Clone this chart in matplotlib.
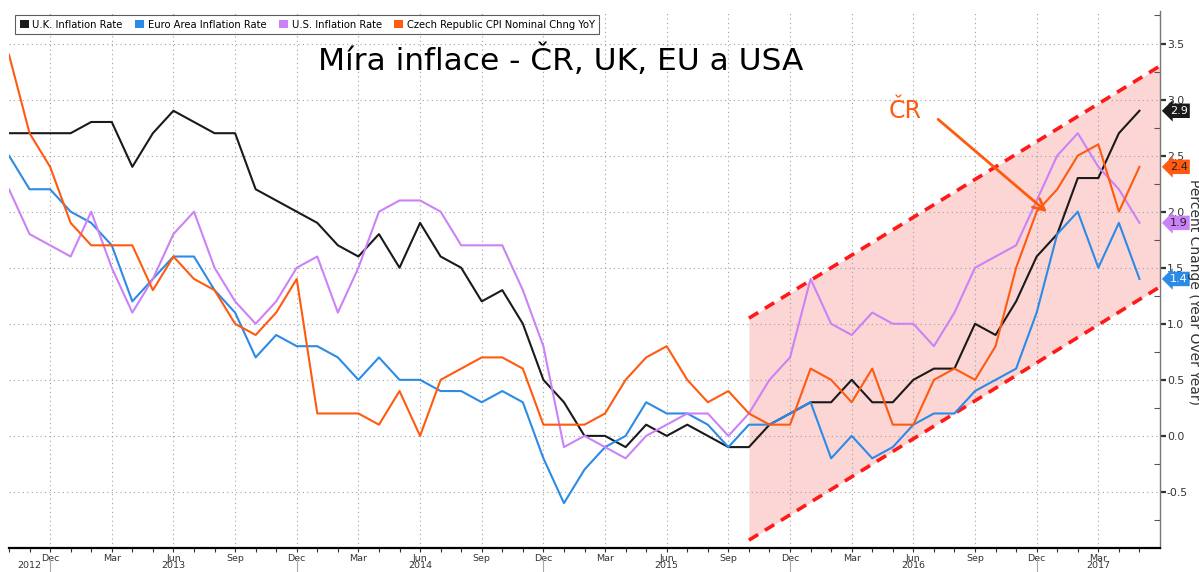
import numpy as np
import matplotlib.pyplot as plt
from matplotlib.patches import Patch
from matplotlib.transforms import blended_transform_factory

# mesicni data: rijen 2012 .. kveten 2017 (index 0 = Oct 2012)
uk = [2.7, 2.7, 2.7,
      2.7, 2.8, 2.8, 2.4, 2.7, 2.9, 2.8, 2.7, 2.7, 2.2, 2.1, 2.0,
      1.9, 1.7, 1.6, 1.8, 1.5, 1.9, 1.6, 1.5, 1.2, 1.3, 1.0, 0.5,
      0.3, 0.0, 0.0, -0.1, 0.1, 0.0, 0.1, 0.0, -0.1, -0.1, 0.1, 0.2,
      0.3, 0.3, 0.5, 0.3, 0.3, 0.5, 0.6, 0.6, 1.0, 0.9, 1.2, 1.6,
      1.8, 2.3, 2.3, 2.7, 2.9]
euro = [2.5, 2.2, 2.2,
        2.0, 1.9, 1.7, 1.2, 1.4, 1.6, 1.6, 1.3, 1.1, 0.7, 0.9, 0.8,
        0.8, 0.7, 0.5, 0.7, 0.5, 0.5, 0.4, 0.4, 0.3, 0.4, 0.3, -0.2,
        -0.6, -0.3, -0.1, 0.0, 0.3, 0.2, 0.2, 0.1, -0.1, 0.1, 0.1, 0.2,
        0.3, -0.2, 0.0, -0.2, -0.1, 0.1, 0.2, 0.2, 0.4, 0.5, 0.6, 1.1,
        1.8, 2.0, 1.5, 1.9, 1.4]
usa = [2.2, 1.8, 1.7,
       1.6, 2.0, 1.5, 1.1, 1.4, 1.8, 2.0, 1.5, 1.2, 1.0, 1.2, 1.5,
       1.6, 1.1, 1.5, 2.0, 2.1, 2.1, 2.0, 1.7, 1.7, 1.7, 1.3, 0.8,
       -0.1, 0.0, -0.1, -0.2, 0.0, 0.1, 0.2, 0.2, 0.0, 0.2, 0.5, 0.7,
       1.4, 1.0, 0.9, 1.1, 1.0, 1.0, 0.8, 1.1, 1.5, 1.6, 1.7, 2.1,
       2.5, 2.7, 2.4, 2.2, 1.9]
cz = [3.4, 2.7, 2.4,
      1.9, 1.7, 1.7, 1.7, 1.3, 1.6, 1.4, 1.3, 1.0, 0.9, 1.1, 1.4,
      0.2, 0.2, 0.2, 0.1, 0.4, 0.0, 0.5, 0.6, 0.7, 0.7, 0.6, 0.1,
      0.1, 0.1, 0.2, 0.5, 0.7, 0.8, 0.5, 0.3, 0.4, 0.2, 0.1, 0.1,
      0.6, 0.5, 0.3, 0.6, 0.1, 0.1, 0.5, 0.6, 0.5, 0.8, 1.5, 2.0,
      2.2, 2.5, 2.6, 2.0, 2.4]

nazvy = ['U.K. Inflation Rate', 'Euro Area Inflation Rate',
         'U.S. Inflation Rate', 'Czech Republic CPI Nominal Chng YoY']
barvy = ['#1a1a1a', '#2b8be6', '#cc82f7', '#ff5a0f']
barvy_textu = ['white', 'white', '#222222', '#222222']

mesice = np.arange(len(uk))
zkratky = ['Jan', 'Feb', 'Mar', 'Apr', 'May', 'Jun',
           'Jul', 'Aug', 'Sep', 'Oct', 'Nov', 'Dec']
roky = ['2012', '2013', '2014', '2015', '2016', '2017']
roky_pozice = [1, 8, 20, 32, 44, 53]

# rucne nakresleny kanal (Oct 2015 .. konec osy)
kanal_x = [36, 56]
kanal_horni = [1.05, 3.3]
kanal_dolni = [-0.93, 1.33]

fig = plt.figure(figsize=(11.99, 5.72), dpi=100)
ax = fig.add_axes([9/1199, 24/572, 1151/1199, 537/572])

ax.fill_between(kanal_x, kanal_dolni, kanal_horni, color='#fcd5d5', lw=0, zorder=1)
ax.plot(kanal_x, kanal_horni, color='#ff1a1a', lw=2.6, dashes=(3, 2.2), zorder=2)
ax.plot(kanal_x, kanal_dolni, color='#ff1a1a', lw=2.6, dashes=(3, 2.2), zorder=2)

serie = [uk, euro, usa, cz]
for s, c in zip(serie, barvy):
    ax.plot(mesice, s, color=c, lw=1.5, zorder=3)

ax.set_xlim(0, 56)
ax.set_ylim(-1.0, 3.79)

# osa x: mesice
vse = np.arange(0, 56)
kvartaly = [m for m in vse if (9 + m) % 12 in (11, 2, 5, 8)]
ax.set_xticks(kvartaly)
ax.set_xticklabels([zkratky[(9 + m) % 12] for m in kvartaly])
ax.set_xticks(vse, minor=True)
ax.tick_params(axis='x', which='both', direction='out', length=3, width=0.8,
               labelsize=6.8, pad=1, color='#333333', labelcolor='#333333')

# osa y vpravo
ax.yaxis.tick_right()
ax.set_yticks(np.arange(-0.5, 3.51, 0.5))
ax.set_yticklabels(['%.1f' % v for v in np.arange(-0.5, 3.51, 0.5)])
ax.set_yticks(np.arange(-0.75, 3.8, 0.5), minor=True)
ax.tick_params(axis='y', which='major', direction='out', length=4, width=1.6,
               labelsize=7.8, pad=1, color='#333333', labelcolor='#333333')
ax.tick_params(axis='y', which='minor', direction='in', length=4, width=0.8,
               color='#555555')

ax.grid(True, which='major', color='#a0a0a0', lw=0.8, linestyle=(0, (1, 3)))
for sp in ['top', 'left']:
    ax.spines[sp].set_visible(False)
ax.spines['bottom'].set_color('black')
ax.spines['bottom'].set_linewidth(1.6)
ax.spines['right'].set_color('#777777')
ax.spines['right'].set_linewidth(1.0)

# roky pod osou
tr = blended_transform_factory(ax.transData, fig.transFigure)
for r, p in zip(roky, roky_pozice):
    ax.text(p, 0.003, r, transform=tr, ha='center', va='bottom', fontsize=6.8,
            color='#333333')
for m in [2, 14, 26, 38, 50]:
    ax.plot([m, m], [0.0, 0.024], transform=tr, color='#aaaaaa', lw=0.8,
            clip_on=False)

# hodnoty vpravo
posledni = [s[-1] for s in serie]
for v, c, tc in zip(posledni, barvy, barvy_textu):
    ax.annotate('%.1f' % v, xy=(1, v), xycoords=('axes fraction', 'data'),
                xytext=(7, 0), textcoords='offset points', ha='left', va='center',
                fontsize=8, color=tc,
                bbox=dict(boxstyle='larrow,pad=0.2', fc=c, ec='none'),
                annotation_clip=False)

# popisek osy y (v originale oriznuty u okraje)
fig.text(1194/1199, 0.49, 'Percent Change (Year Over Year)', rotation=270,
         ha='center', va='center', fontsize=10, color='#333333')

# titulek a popis
fig.text(0.468, 0.895, 'Míra inflace - ČR, UK, EU a USA', ha='center', va='center',
         fontsize=22.5, color='black')
ax.text(43.6, 2.9, 'ČR', color='#ff5a0f', fontsize=17, ha='center', va='center',
        zorder=5)
ax.annotate('', xy=(50.6, 1.98), xytext=(45.1, 2.84),
            arrowprops=dict(arrowstyle='->', color='#ff5a0f', lw=2,
                            mutation_scale=20), zorder=5)

handles = [Patch(facecolor=c, edgecolor='none') for c in barvy]
leg = fig.legend(handles, nazvy, loc='upper left',
                 bbox_to_anchor=(10/1199, 1 - 10/572), ncol=4, fontsize=7.2,
                 frameon=True, fancybox=False, edgecolor='#333333',
                 handlelength=0.9, handleheight=0.9, handletextpad=0.4,
                 columnspacing=1.2, borderpad=0.45)
leg.get_frame().set_linewidth(0.8)

fig.savefig('out.png', dpi=100)
